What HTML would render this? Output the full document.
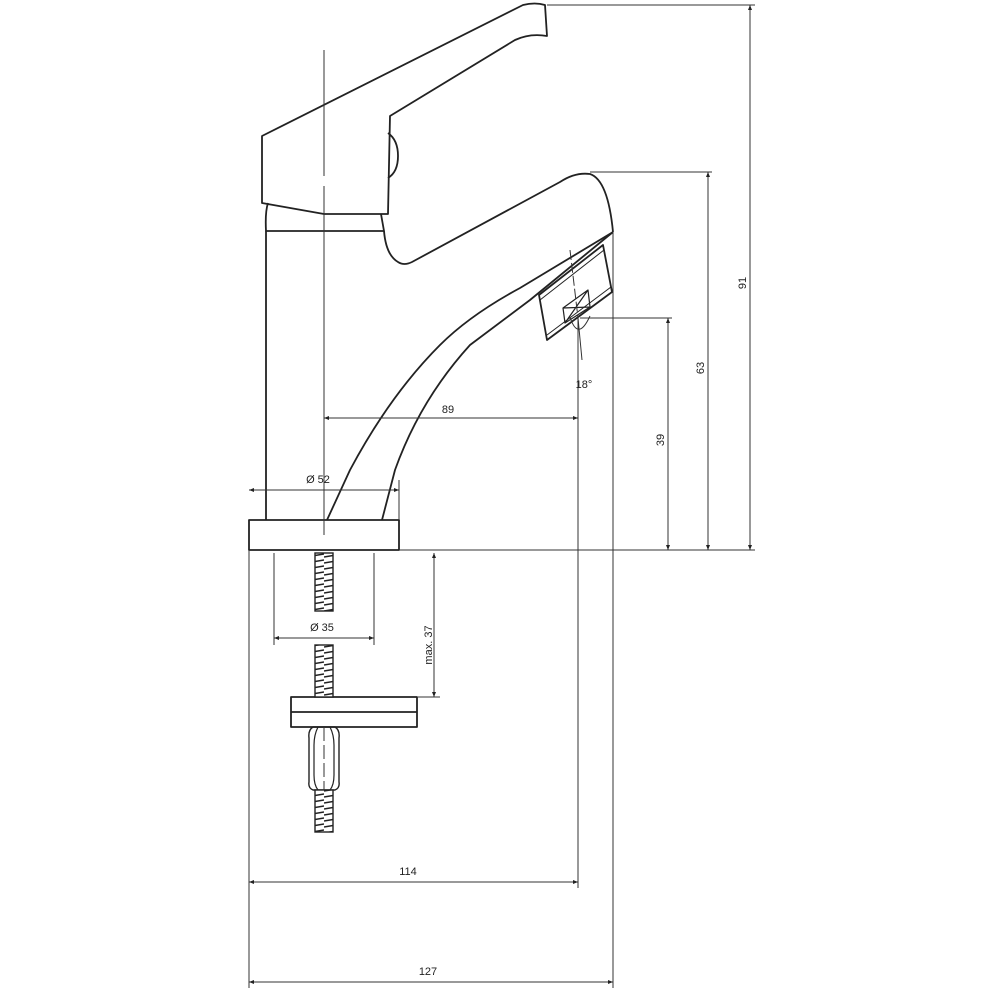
<!DOCTYPE html>
<html><head><style>html,body{margin:0;padding:0;background:#fff}svg{display:block}text{font-family:"Liberation Sans",sans-serif;font-size:11px;fill:#222}</style></head>
<body>
<svg width="1000" height="1000" viewBox="0 0 1000 1000" xmlns="http://www.w3.org/2000/svg">
<defs>
<marker id="a" viewBox="0 0 10 10" refX="10" refY="5" markerWidth="9" markerHeight="5" orient="auto-start-reverse"><path d="M0,1 L10,5 L0,9 z" fill="#222"/></marker>
<pattern id="th" width="18" height="6" patternUnits="userSpaceOnUse"><rect width="18" height="6" fill="#fff"/><path d="M0,5 L18,2" stroke="#222" stroke-width="1.6"/></pattern>
</defs>
<g fill="none" stroke="#222" stroke-width="1.8" stroke-linejoin="round">
<!-- handle -->
<path d="M262,136 L523,5 Q535,2 545,5 L547,36 Q530,33 515,40 L390,116 L388,214 L324,214 L262,203 Z"/>
<path d="M388,133 Q398,140 398,156 Q398,172 388,178"/>
<!-- cap & body -->
<path d="M268,203 Q265,212 266,231 L384,231 L381,214"/>
<path d="M266,231 L266,520"/>
<!-- spout -->
<path d="M384,231 Q386,255 398,262 Q404,266 412,262 L560,182 Q575,172 590,174 Q608,180 613,232"/>
<path d="M613,232 L520,288 Q470,315 440,345 Q390,395 350,470 L327,520"/>
<path d="M613,232 L530,300 Q490,330 470,345 Q420,400 395,470 L382,520"/>
<!-- aerator -->
<path d="M539,295 L603,245 L612,292 L547,340 Z"/>
<path d="M540,300 L604,250" stroke-width="1"/>
<path d="M547,335 L611,287" stroke-width="1"/>
<path d="M563,308 L588,290 L590,307 L565,323 Z M563,308 L590,307 M588,290 L565,323" stroke-width="1.2"/>
<!-- base -->
<rect x="249" y="520" width="150" height="30"/>
<!-- washer & nut -->
<rect x="291" y="697" width="126" height="30"/>
<line x1="291" y1="712" x2="417" y2="712"/>
<path d="M313,727 Q308,730 309,738 L309,782 Q308,788 313,790 L335,790 Q340,788 339,782 L339,738 Q340,730 335,727 Z" stroke-width="1.4"/>
<path d="M318,727 Q314,735 314,745 L314,775 Q314,785 318,790 M330,727 Q334,735 334,745 L334,775 Q334,785 330,790" stroke-width="1.2"/>
</g>
<!-- threads -->
<g stroke="#222" stroke-width="1.4">
<rect x="315" y="553" width="18" height="58" fill="url(#th)"/>
<rect x="315" y="645" width="18" height="52" fill="url(#th)"/>
<rect x="315" y="790" width="18" height="42" fill="url(#th)"/>
</g>
<!-- thin lines -->
<g fill="none" stroke="#333" stroke-width="1">
<line x1="324" y1="50" x2="324" y2="176"/><line x1="324" y1="186" x2="324" y2="535"/>
<line x1="324" y1="727" x2="324" y2="790" stroke-dasharray="14,4"/>
<path d="M547,5 L755,5 M590,172 L712,172 M580,318 L672,318 M399,550 L755,550"/>
<line x1="750" y1="5" x2="750" y2="550"/>
<line x1="708" y1="172" x2="708" y2="550"/>
<line x1="668" y1="318" x2="668" y2="550"/>
<line x1="578" y1="318" x2="578" y2="888"/>
<line x1="613" y1="232" x2="613" y2="988"/>
<line x1="249" y1="550" x2="249" y2="988"/>
<line x1="570" y1="250" x2="578" y2="318" stroke-dasharray="10,3"/>
<line x1="578" y1="318" x2="582" y2="360"/>
<line x1="399" y1="480" x2="399" y2="520"/>
<line x1="274" y1="553" x2="274" y2="645"/><line x1="374" y1="553" x2="374" y2="645"/>
<line x1="418" y1="697" x2="440" y2="697"/>
<path d="M570,317 Q578,342 590,316"/>
<line x1="324" y1="418" x2="578" y2="418" marker-start="url(#a)" marker-end="url(#a)"/>
<line x1="249" y1="490" x2="399" y2="490" marker-start="url(#a)" marker-end="url(#a)"/>
<line x1="274" y1="638" x2="374" y2="638" marker-start="url(#a)" marker-end="url(#a)"/>
<line x1="434" y1="553" x2="434" y2="697" marker-start="url(#a)" marker-end="url(#a)"/>
<line x1="249" y1="882" x2="578" y2="882" marker-start="url(#a)" marker-end="url(#a)"/>
<line x1="249" y1="982" x2="613" y2="982" marker-start="url(#a)" marker-end="url(#a)"/>
<line x1="750" y1="5" x2="750" y2="550" marker-start="url(#a)" marker-end="url(#a)"/>
<line x1="708" y1="172" x2="708" y2="550" marker-start="url(#a)" marker-end="url(#a)"/>
<line x1="668" y1="318" x2="668" y2="550" marker-start="url(#a)" marker-end="url(#a)"/>
</g>
<g>
<text x="448" y="413" text-anchor="middle" transform="scale(1,1)">89</text>
<text x="318" y="483" text-anchor="middle">Ø 52</text>
<text x="322" y="631" text-anchor="middle">Ø 35</text>
<text x="408" y="875" text-anchor="middle">114</text>
<text x="428" y="975" text-anchor="middle">127</text>
<text x="584" y="388" text-anchor="middle">18°</text>
<text transform="translate(746,283) rotate(-90)" text-anchor="middle">91</text>
<text transform="translate(704,368) rotate(-90)" text-anchor="middle">63</text>
<text transform="translate(664,440) rotate(-90)" text-anchor="middle">39</text>
<text transform="translate(432,645) rotate(-90)" text-anchor="middle">max. 37</text>
</g>
</svg>
</body></html>
